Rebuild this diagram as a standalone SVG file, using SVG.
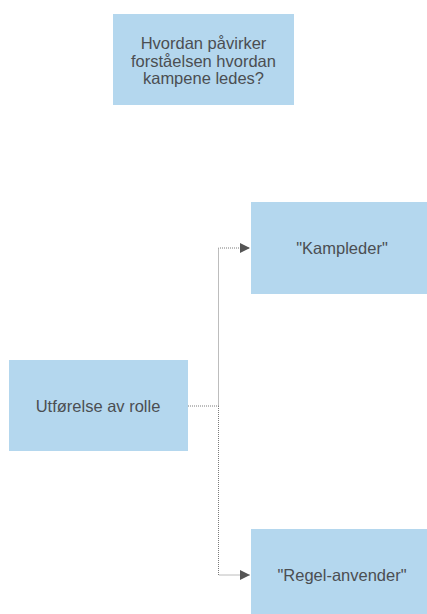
<svg xmlns="http://www.w3.org/2000/svg" width="427" height="614" viewBox="0 0 427 614">
<style>
.box{fill:#b4d7ee;stroke:none}
.t{font-family:"Liberation Sans",Arial,sans-serif;font-size:16.5px;fill:#4b4e52;text-anchor:middle}
.c{fill:none;stroke:#7a7a7a;stroke-width:1;stroke-dasharray:1,1}
</style>
<defs>
<marker id="ah" markerWidth="10" markerHeight="10" refX="10" refY="5" orient="auto" markerUnits="userSpaceOnUse">
<path d="M0,0 L10,5 L0,10 Z" fill="#555"/>
</marker>
</defs>
<rect width="427" height="614" fill="#fff"/>
<g id="connectors">
<path class="c" d="M188,406 H218.5 V248 H250" marker-end="url(#ah)"/>
<path class="c" d="M218.5,406 V575 H250" marker-end="url(#ah)"/>
</g>
<g id="question">
<rect class="box" x="113" y="14" width="181" height="91"/>
<text class="t" x="203.5" y="49">Hvordan påvirker</text>
<text class="t" x="203.5" y="66.7">forståelsen hvordan</text>
<text class="t" x="203.5" y="84.4">kampene ledes?</text>
</g>
<g id="kampleder">
<rect class="box" x="251" y="202" width="181" height="92"/>
<text class="t" x="342" y="254">"Kampleder"</text>
</g>
<g id="utforelse">
<rect class="box" x="9" y="360" width="179" height="91"/>
<text class="t" x="98" y="412">Utførelse av rolle</text>
</g>
<g id="regel">
<rect class="box" x="251" y="529" width="181" height="92"/>
<text class="t" x="342" y="581">"Regel-anvender"</text>
</g>
</svg>
